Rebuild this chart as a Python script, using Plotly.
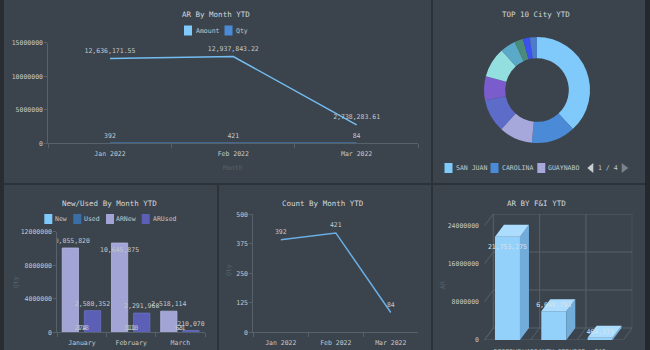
import plotly.graph_objects as go

W, H = 650, 350

# ---------------- data ----------------
months = ["Jan 2022", "Feb 2022", "Mar 2022"]
ar_amount = [12636171.55, 12937843.22, 2738283.61]
ar_qty = [392, 421, 84]

city_names = ["SAN JUAN", "CAROLINA", "GUAYNABO", "BAYAMON", "CAGUAS",
              "TRUJILLO ALTO", "DORADO", "HUMACAO", "PONCE", "TOA BAJA"]
city_ar = [10810000, 3792000, 2887000, 2874000, 2066000,
           2604000, 1330000, 736000, 594000, 623000]

nu_months = ["January", "February", "March"]
new_qty = [274, 311, 63]
used_qty = [118, 110, 21]
ar_new = [10055820, 10645875, 2518114]
ar_used = [2580352, 2291968, 210070]

count_qty = [392, 421, 84]

fi_products = ["RESERVE", "WARRANTY SERVICE", "GAP"]
fi_ar = [21753275, 6048793, 464373]

# ---------------- style ----------------
FONT = "DejaVu Sans Mono"
PANEL = "#3b444c"
DIVIDER = "#2c3338"
AX = "#56626b"
TICK = "#c3c8cd"
TITLE = "#d3d7db"
DIM = "#55626c"

pie_colors = ["#80c9fb", "#4a8ad6", "#a6a8dc", "#5d6cc8", "#7a5ccc",
              "#93dfe0", "#5aa9c8", "#4b8b7a", "#3d50f0", "#4b7bc9"]


def fx(px):
    return px / W


def fy(py):
    return 1 - py / H


shapes = []
annotations = []
traces = []

# ---------------- panels ----------------
shapes.append(dict(type="rect", xref="paper", yref="paper", x0=0, x1=fx(4), y0=0, y1=1,
                   fillcolor="#292d31", line=dict(width=0), layer="below"))
shapes.append(dict(type="rect", xref="paper", yref="paper", x0=fx(645), x1=1, y0=0, y1=1,
                   fillcolor="#25292d", line=dict(width=0), layer="below"))
for (x0, y0, x1, y1) in [(4, 0, 431, 183), (433, 0, 645, 183), (4, 185, 217, 350),
                         (219, 185, 431, 350), (433, 185, 645, 350)]:
    shapes.append(dict(type="rect", xref="paper", yref="paper", x0=fx(x0), x1=fx(x1),
                       y0=fy(y1), y1=fy(y0), fillcolor=PANEL, line=dict(width=0), layer="below"))


def text(t, x, y, size=6.5, color=TICK, xanchor="center", angle=0):
    annotations.append(dict(text=t, x=fx(x), y=fy(y), xref="paper", yref="paper",
                            showarrow=False, xanchor=xanchor, yanchor="middle",
                            textangle=angle, borderpad=0,
                            font=dict(size=size, color=color, family=FONT)))


def legend(names, colors, sq_x, tx_x, yc):
    for n, c, sx, tx in zip(names, colors, sq_x, tx_x):
        shapes.append(dict(type="rect", xref="paper", yref="paper",
                           x0=fx(sx), x1=fx(sx + 8), y0=fy(yc + 5), y1=fy(yc - 5),
                           fillcolor=c, line=dict(width=0)))
        text(n, tx, yc, size=6.5, color=TICK, xanchor="left")


# titles
text("AR By Month YTD", 215.5, 14, size=7.5, color=TITLE)
text("TOP 10 City YTD", 536, 14, size=7.5, color=TITLE)
text("New/Used By Month YTD", 109, 203, size=7.5, color=TITLE)
text("Count By Month YTD", 322.5, 203, size=7.5, color=TITLE)
text("AR BY F&I YTD", 536, 203, size=7.5, color=TITLE)

# axis titles
text("Month", 233, 168, size=6.5, color=DIM)
text("Qty", 16, 282, size=6.5, color=DIM, angle=-90)
text("Qty", 229, 270, size=6.5, color=DIM, angle=-90)
text("AR", 443, 285, size=6.5, color=DIM, angle=-90)

# legends
legend(["Amount", "Qty"], ["#80c9fb", "#4a8ad6"], [184, 224.5], [194.5, 234.5], 30.5)
legend(city_names[:3], pie_colors[:3], [444.5, 490.5, 537.3], [454.5, 500.7, 547.3], 168)
legend(["New", "Used", "ARNew", "ARUsed"], ["#80c9fb", "#3b6da6", "#a1a4d5", "#5b5fb5"],
       [44.3, 73.3, 106, 141.7], [54, 83.3, 115.3, 151.7], 219)

# pager
shapes.append(dict(type="path", xref="paper", yref="paper",
                   path=f"M{fx(587.3)},{fy(168)} L{fx(593.3)},{fy(163)} L{fx(593.3)},{fy(173)} Z",
                   fillcolor="#c8cdd2", line=dict(width=0)))
shapes.append(dict(type="path", xref="paper", yref="paper",
                   path=f"M{fx(621.7)},{fy(163)} L{fx(621.7)},{fy(173)} L{fx(628.3)},{fy(168)} Z",
                   fillcolor="#7b8288", line=dict(width=0)))
text("1 / 4", 607.5, 168, size=6.5, color=TICK)

lbl_font = dict(size=6.5, color=TICK, family=FONT)
ghost = dict(size=5, color="rgba(0,0,0,0)", line=dict(width=0, color="rgba(0,0,0,0)"))

# ---------------- top-left: AR by month ----------------
traces.append(go.Scatter(x=months, y=ar_qty, mode="lines+markers+text", marker=ghost,
                         text=[str(v) for v in ar_qty], textposition="top center",
                         textfont=lbl_font, line=dict(color="#4a8ad6", width=1.5),
                         cliponaxis=False, xaxis="x", yaxis="y"))
traces.append(go.Scatter(x=months, y=ar_amount, mode="lines+markers+text", marker=ghost,
                         text=[f"{v:,.2f}" for v in ar_amount], textposition="top center",
                         textfont=lbl_font, line=dict(color="#74bdf3", width=1.5),
                         cliponaxis=False, xaxis="x", yaxis="y"))

# ---------------- top-right: donut ----------------
traces.append(go.Pie(labels=city_names, values=city_ar, hole=0.6, sort=False,
                     direction="clockwise", rotation=0, textinfo="none",
                     marker=dict(colors=pie_colors, line=dict(width=0)),
                     domain=dict(x=[fx(484), fx(590)], y=[fy(143), fy(37)])))

# ---------------- bottom-left: new/used ----------------
bar_txt = dict(textfont=lbl_font, insidetextfont=lbl_font, outsidetextfont=lbl_font,
               constraintext="none", textangle=0, cliponaxis=True)
traces.append(go.Bar(x=nu_months, y=ar_new, offset=-0.40, width=0.33,
                     marker=dict(color="#a1a4d5", line=dict(color="#b6b9e4", width=0.8)),
                     text=[f"{v:,}" for v in ar_new],
                     textposition=["outside", "inside", "outside"], insidetextanchor="end",
                     xaxis="x2", yaxis="y2", **bar_txt))
traces.append(go.Bar(x=nu_months, y=ar_used, offset=0.05, width=0.33,
                     marker=dict(color="#5b5fb5", line=dict(color="#6d72c4", width=0.8)),
                     text=[f"{v:,}" for v in ar_used], textposition="outside",
                     xaxis="x2", yaxis="y2", **bar_txt))
traces.append(go.Bar(x=nu_months, y=new_qty, offset=-0.05, width=0.05,
                     marker=dict(color="#80c9fb"), text=[str(v) for v in new_qty],
                     textposition="outside", xaxis="x2", yaxis="y2", **bar_txt))
traces.append(go.Bar(x=nu_months, y=used_qty, offset=0.0, width=0.05,
                     marker=dict(color="#3b6da6"), text=[str(v) for v in used_qty],
                     textposition="outside", xaxis="x2", yaxis="y2", **bar_txt))

# ---------------- bottom-middle: count ----------------
traces.append(go.Scatter(x=months, y=count_qty, mode="lines+markers+text", marker=ghost,
                         text=[str(v) for v in count_qty], textposition="top center",
                         textfont=lbl_font, line=dict(color="#6aaee6", width=1.5),
                         cliponaxis=False, xaxis="x3", yaxis="y3"))

# ---------------- bottom-right: 3D bars ----------------
fi_top = 24000000
depth_x = 0.194
depth_y = 2526000
hw = 0.27
unit_px = 46.33
px_per_val = 114 / fi_top
fi_x = list(range(len(fi_products)))
grid_ticks = [0, 8000000, 16000000, 24000000]
GRID = "#55606a"
for v in grid_ticks:
    shapes.append(dict(type="line", xref="x4", yref="y4", x0=-0.5 + depth_x, x1=2.5 + depth_x,
                       y0=v + depth_y, y1=v + depth_y, line=dict(color=GRID, width=1), layer="below"))
    shapes.append(dict(type="line", xref="x4", yref="y4", x0=-0.5, x1=-0.5 + depth_x,
                       y0=v, y1=v + depth_y, line=dict(color=GRID, width=1), layer="below"))
for b in [-0.5, 0.5, 1.5, 2.5]:
    shapes.append(dict(type="line", xref="x4", yref="y4", x0=b + depth_x, x1=b + depth_x,
                       y0=depth_y, y1=fi_top + depth_y, line=dict(color=GRID, width=1), layer="below"))
    shapes.append(dict(type="line", xref="x4", yref="y4", x0=b, x1=b + depth_x,
                       y0=0, y1=depth_y, line=dict(color=GRID, width=1), layer="below"))
shapes.append(dict(type="line", xref="x4", yref="y4", x0=-0.5, x1=2.5, y0=0, y1=0,
                   line=dict(color=GRID, width=1), layer="below"))

traces.append(go.Bar(x=fi_x, y=fi_ar, width=2 * hw, marker=dict(color="#93d0fa", line=dict(width=0)),
                     xaxis="x4", yaxis="y4"))
top_x, top_y, side_x, side_y = [], [], [], []
for i, v in zip(fi_x, fi_ar):
    top_x += [i - hw, i + hw, i + hw + depth_x, i - hw + depth_x, i - hw, None]
    top_y += [v, v, v + depth_y, v + depth_y, v, None]
    side_x += [i + hw, i + hw, i + hw + depth_x, i + hw + depth_x, i + hw, None]
    side_y += [0, v, v + depth_y, depth_y, 0, None]
traces.append(go.Scatter(x=side_x, y=side_y, mode="lines", fill="toself", fillcolor="#72acdb",
                         line=dict(width=0), xaxis="x4", yaxis="y4"))
traces.append(go.Scatter(x=top_x, y=top_y, mode="lines", fill="toself", fillcolor="#acdcfe",
                         line=dict(width=0), xaxis="x4", yaxis="y4"))
traces.append(go.Scatter(x=fi_x, y=fi_ar, mode="markers+text",
                         marker=dict(size=[10, 2, 2], color="rgba(0,0,0,0)",
                                     line=dict(width=0, color="rgba(0,0,0,0)")),
                         text=[f"{v:,}" for v in fi_ar],
                         textposition=["bottom center", "top center", "top center"],
                         textfont=dict(size=6.5, color="#d9e3eb", family=FONT),
                         cliponaxis=False, xaxis="x4", yaxis="y4"))

# ---------------- layout ----------------
base = dict(showgrid=False, zeroline=False, linecolor=AX, tickcolor=AX, linewidth=1,
            tickfont=dict(size=6.5, color=TICK, family=FONT), fixedrange=True,
            automargin=False, tickangle=0)

layout = go.Layout(
    template="none",
    width=W, height=H, autosize=False,
    margin=dict(l=0, r=0, t=0, b=0, pad=0),
    paper_bgcolor=DIVIDER, plot_bgcolor="rgba(0,0,0,0)",
    font=dict(family=FONT, color=TICK, size=6.5),
    showlegend=False, barmode="overlay",
    xaxis=dict(base, type="category", categoryorder="array", categoryarray=months,
               range=[-0.5, 2.5], tickson="boundaries", ticks="outside", ticklen=4,
               ticklabelstandoff=4,
               showline=True, domain=[fx(48.3), fx(418.3)], anchor="y"),
    yaxis=dict(base, range=[0, 15000000], tickvals=[0, 5000000, 10000000, 15000000],
               tickformat="d", ticks="outside", ticklen=3, showline=True,
               domain=[fy(143.3), fy(42.7)], anchor="x"),
    xaxis2=dict(base, type="category", categoryorder="array", categoryarray=nu_months,
                range=[-0.5, 2.5], tickson="boundaries", ticks="outside", ticklen=4,
                ticklabelstandoff=4,
                showline=True, domain=[fx(57.3), fx(205)], anchor="y2"),
    yaxis2=dict(base, range=[0, 12000000], tickvals=[0, 4000000, 8000000, 12000000],
                tickformat="d", ticks="outside", ticklen=3, showline=True,
                domain=[fy(332.3), fy(231.7)], anchor="x2"),
    xaxis3=dict(base, type="category", categoryorder="array", categoryarray=months,
                range=[-0.5, 2.5], tickson="boundaries", ticks="outside", ticklen=4,
                ticklabelstandoff=4,
                showline=True, domain=[fx(253.3), fx(418.3)], anchor="y3"),
    yaxis3=dict(base, range=[0, 500], tickvals=[0, 125, 250, 375, 500],
                tickformat="d", ticks="outside", ticklen=3, showline=True,
                domain=[fy(332.3), fy(214.3)], anchor="x3"),
    xaxis4=dict(base, range=[-0.5, 2.5 + depth_x], tickvals=fi_x, ticktext=fi_products,
                ticks="", showline=False, ticklabelstandoff=6,
                domain=[fx(484.3), fx(484.3 + (3 + depth_x) * unit_px)], anchor="y4"),
    yaxis4=dict(base, range=[0, fi_top + depth_y], tickvals=grid_ticks, tickformat="d",
                ticks="outside", ticklen=3, tickcolor="rgba(0,0,0,0)", showline=False,
                domain=[fy(340), fy(340 - (fi_top + depth_y) * px_per_val)], anchor="x4"),
    shapes=shapes, annotations=annotations,
)

fig = go.Figure(data=traces, layout=layout)
fig.write_html("out.html")
